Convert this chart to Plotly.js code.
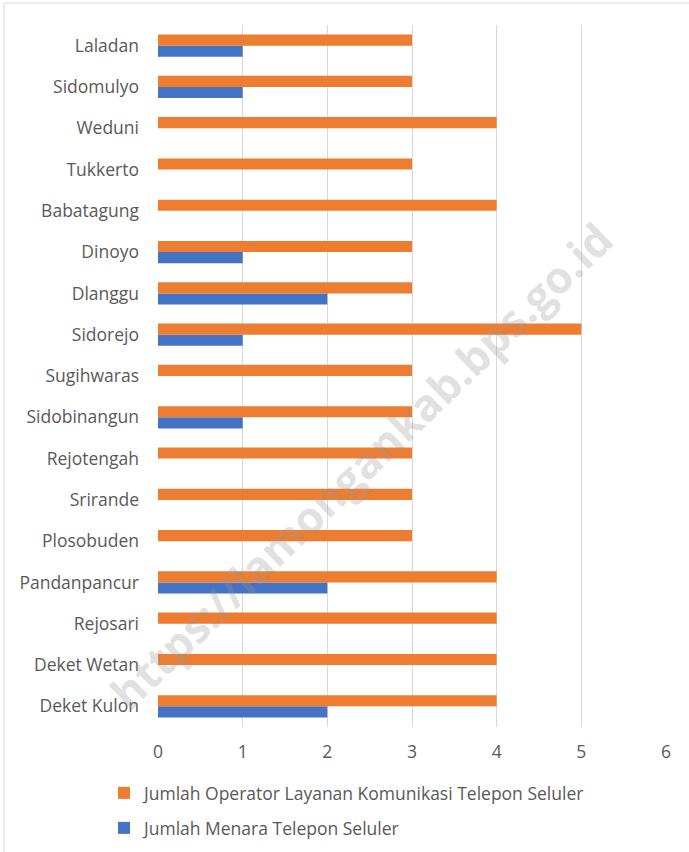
<!DOCTYPE html>
<html>
<head>
<meta charset="utf-8">
<script src="https://cdn.plot.ly/plotly-3.0.1.min.js"></script>
<style>html,body{margin:0;padding:0;background:#fff;}#chart{width:689px;height:852px;}</style>
</head>
<body>
<div id="chart"></div>
<script>
// categories from bottom to top
const desa = ["Deket Kulon","Deket Wetan","Rejosari","Pandanpancur","Plosobuden","Srirande","Rejotengah","Sidobinangun","Sugihwaras","Sidorejo","Dlanggu","Dinoyo","Babatagung","Tukkerto","Weduni","Sidomulyo","Laladan"];
const operatorSeluler = [4,4,4,4,3,3,3,3,3,5,3,3,4,3,4,3,3];
const menaraSeluler   = [2,0,0,2,0,0,0,1,0,1,2,1,0,0,0,1,1];
const xTicks = [0,1,2,3,4,5,6];

const font = "Open Sans, Noto Sans, sans-serif";
const fs = 17.5;
const traces = [
  {type:"bar", orientation:"h", name:"Jumlah Menara Telepon Seluler", y:desa, x:menaraSeluler,
   marker:{color:"#4472C4", line:{width:0}}, legend:"legend2", hoverinfo:"x+y"},
  {type:"bar", orientation:"h", name:"Jumlah Operator Layanan Komunikasi Telepon Seluler", y:desa, x:operatorSeluler,
   marker:{color:"#ED7D31", line:{width:0}}, legend:"legend", hoverinfo:"x+y"}
];
const layout = {
  width:689, height:852,
  margin:{l:158, r:23, t:25, b:125},
  paper_bgcolor:"#fff", plot_bgcolor:"#fff",
  barmode:"group", bargap:0.46, bargroupgap:0,
  font:{family:font, size:fs, color:"#595959"},
  xaxis:{range:[0,6], tickvals:xTicks, ticktext:xTicks.map(String), showgrid:true, gridcolor:"#d9d9d9", gridwidth:1,
         zeroline:false, showline:false, ticks:"", ticklabelstandoff:12, tickfont:{size:fs, color:"#595959"}, fixedrange:true},
  yaxis:{type:"category", categoryorder:"array", categoryarray:desa, showgrid:false, zeroline:false, showline:false,
         ticks:"", ticklabelstandoff:18, tickfont:{size:fs, color:"#595959"}, fixedrange:true},
  showlegend:true,
  legend:{xref:"paper", yref:"container", x:(104-158)/508, y:1-775/852, xanchor:"left", yanchor:"top", orientation:"v",
          font:{size:fs, color:"#595959"}, bgcolor:"rgba(0,0,0,0)", itemwidth:30},
  legend2:{xref:"paper", yref:"container", x:(104-158)/508, y:1-810/852, xanchor:"left", yanchor:"top", orientation:"v",
          font:{size:fs, color:"#595959"}, bgcolor:"rgba(0,0,0,0)", itemwidth:30},
  annotations:[{
    text:"https://lamongankab.bps.go.id", xref:"paper", yref:"paper", x:0.40, y:0.373, showarrow:false,
    textangle:-44, font:{family:"Open Sans, sans-serif", size:44, color:"rgba(150,150,150,0.3)", weight:"bold"}
  }],
  shapes:[
    {type:"line", xref:"paper", yref:"paper", x0:(4-158)/508, x1:(4-158)/508, y0:(727-3)/702, y1:(727-852)/702, line:{color:"#d9d9d9", width:1}},
    {type:"line", xref:"paper", yref:"paper", x0:(4-158)/508, x1:(689-158)/508, y0:(727-3)/702, y1:(727-3)/702, line:{color:"#d9d9d9", width:1}}
  ]
};
Plotly.newPlot("chart", traces, layout, {displayModeBar:false, staticPlot:true});
</script>
</body>
</html>
